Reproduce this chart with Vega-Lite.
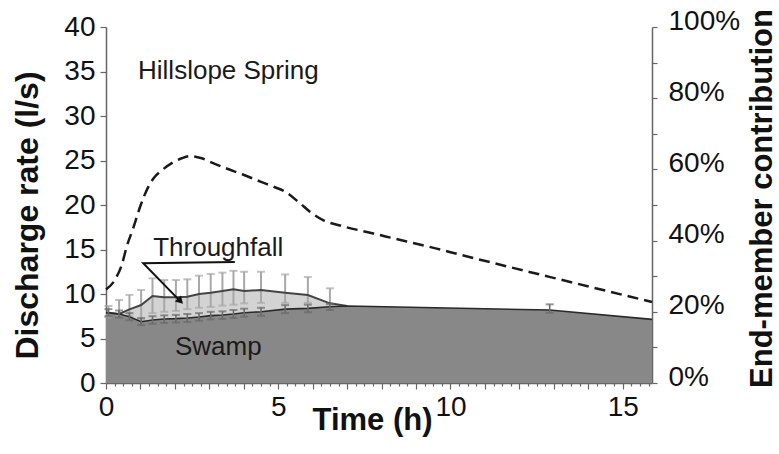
{
  "$schema": "https://vega.github.io/schema/vega-lite/v6.json",
  "width": 546,
  "height": 356,
  "autosize": {"type": "none"},
  "padding": {"left": 106, "top": 27, "right": 127, "bottom": 71},
  "background": "white",
  "config": {
    "view": {"stroke": null},
    "axis": {"labelFont": "Liberation Sans", "titleFont": "Liberation Sans", "labelColor": "#111", "titleColor": "#111", "domainColor": "#666", "tickColor": "#666", "domainWidth": 1.5, "tickWidth": 1.2, "grid": false, "labelFlush": false, "labelOverlap": false, "labelBound": false},
    "text": {"font": "Liberation Sans"}
  },
  "datasets": {
    "main": [
      {"t": 0, "sw": 7.9, "tf": 7.9},
      {"t": 0.07, "sw": 7.9, "tf": 7.9, "tfHi": 8.65, "tfLo": 7.4, "swHi": 8.3, "swLo": 7.5},
      {"t": 0.38, "sw": 7.75, "tf": 7.75, "tfHi": 9.33, "tfLo": 7.6, "swHi": 8.15, "swLo": 7.35},
      {"t": 0.68, "sw": 7.45, "tf": 8.28, "tfHi": 9.9, "tfLo": 7.5, "swHi": 7.85, "swLo": 7.05},
      {"t": 1.02, "sw": 6.89, "tf": 8.76, "tfHi": 10.45, "tfLo": 7.1, "swHi": 7.3, "swLo": 6.5},
      {"t": 1.35, "sw": 7.08, "tf": 9.78, "tfHi": 11.76, "tfLo": 7.85, "swHi": 7.5, "swLo": 6.65},
      {"t": 1.69, "sw": 7.19, "tf": 9.63, "tfHi": 11.57, "tfLo": 8.0, "swHi": 7.6, "swLo": 6.75},
      {"t": 2.03, "sw": 7.23, "tf": 9.63, "tfHi": 11.57, "tfLo": 8.1, "swHi": 7.65, "swLo": 6.8},
      {"t": 2.36, "sw": 7.3, "tf": 9.7, "tfHi": 11.65, "tfLo": 8.3, "swHi": 7.75, "swLo": 6.85},
      {"t": 2.7, "sw": 7.42, "tf": 10.0, "tfHi": 12.06, "tfLo": 8.45, "swHi": 7.85, "swLo": 7.0},
      {"t": 3.04, "sw": 7.57, "tf": 10.15, "tfHi": 12.25, "tfLo": 8.55, "swHi": 8.0, "swLo": 7.15},
      {"t": 3.38, "sw": 7.64, "tf": 10.34, "tfHi": 12.4, "tfLo": 8.7, "swHi": 8.05, "swLo": 7.2},
      {"t": 3.7, "sw": 7.75, "tf": 10.53, "tfHi": 12.6, "tfLo": 8.8, "swHi": 8.2, "swLo": 7.3},
      {"t": 4.01, "sw": 7.9, "tf": 10.34, "tfHi": 12.5, "tfLo": 8.95, "swHi": 8.35, "swLo": 7.45},
      {"t": 4.5, "sw": 8.0, "tf": 10.45, "tfHi": 12.5, "tfLo": 9.0, "swHi": 8.45, "swLo": 7.55},
      {"t": 5.2, "sw": 8.3, "tf": 10.15, "tfHi": 12.2, "tfLo": 9.0, "swHi": 8.75, "swLo": 7.85},
      {"t": 5.86, "sw": 8.38, "tf": 9.89, "tfHi": 11.9, "tfLo": 9.0, "swHi": 8.8, "swLo": 7.95},
      {"t": 6.5, "sw": 8.57, "tf": 8.95, "tfHi": 10.64, "tfLo": 8.8, "swHi": 8.9, "swLo": 8.2},
      {"t": 7.0, "sw": 8.65, "tf": 8.65},
      {"t": 12.88, "sw": 8.2, "swHi": 8.84, "swLo": 7.9},
      {"t": 15.85, "sw": 7.15}
    ],
    "hill": [
      {"t": 0, "q": 10.5}, {"t": 0.26, "q": 11.6}, {"t": 0.46, "q": 13.3}, {"t": 0.6, "q": 15.3},
      {"t": 0.79, "q": 17.4}, {"t": 0.99, "q": 19.8}, {"t": 1.25, "q": 22.2}, {"t": 1.4, "q": 23.1},
      {"t": 1.62, "q": 23.9}, {"t": 1.91, "q": 24.7}, {"t": 2.2, "q": 25.25}, {"t": 2.44, "q": 25.5},
      {"t": 2.78, "q": 25.25}, {"t": 3.11, "q": 24.7}, {"t": 3.5, "q": 24.1}, {"t": 3.99, "q": 23.4},
      {"t": 4.5, "q": 22.6}, {"t": 4.86, "q": 22.06}, {"t": 5.2, "q": 21.5}, {"t": 5.63, "q": 20.2},
      {"t": 5.92, "q": 19.25}, {"t": 6.3, "q": 18.3}, {"t": 6.79, "q": 17.7}, {"t": 7.76, "q": 16.8},
      {"t": 8.73, "q": 15.9}, {"t": 9.6, "q": 15.1}, {"t": 10.0, "q": 14.7}, {"t": 12.9, "q": 11.9},
      {"t": 15.85, "q": 9.1}
    ],
    "callout": [
      {"t": 3.74, "v": 13.6, "ord": 1},
      {"t": 1.08, "v": 13.45, "ord": 2},
      {"t": 2.14, "v": 9.25, "ord": 3}
    ],
    "arrow": [{"t": 2.16, "v": 9.2}],
    "labels": [
      {"t": 0.93, "v": 34.2, "label": "Hillslope Spring"},
      {"t": 1.37, "v": 14.27, "label": "Throughfall"},
      {"t": 2.0, "v": 3.15, "label": "Swamp"}
    ]
  },
  "resolve": {"axis": {"x": "independent", "y": "independent"}},
  "layer": [
    {
      "data": {"name": "main"},
      "mark": {"type": "area", "color": "#888888", "line": false},
      "encoding": {
        "x": {"field": "t", "type": "quantitative", "scale": {"domain": [0, 15.85], "nice": false, "zero": false},
          "axis": {"orient": "bottom", "values": [0,1,2,3,4,5,6,7,8,9,10,11,12,13,14,15],
            "labelExpr": "datum.value % 5 === 0 ? datum.label : ''",
            "tickSize": 6, "labelPadding": 4, "labelFontSize": 28,
            "title": "Time (h)", "titleFontSize": 31, "titleFontWeight": "bold",
            "titleX": 266, "titleY": 37, "titleBaseline": "middle", "titleAlign": "center", "titleAnchor": "start"}},
        "y": {"field": "sw", "type": "quantitative", "scale": {"domain": [0, 40], "nice": false},
          "axis": {"orient": "left", "values": [0,5,10,15,20,25,30,35,40], "tickSize": 6, "labelPadding": 5, "labelFontSize": 28,
            "title": "Discharge rate (l/s)", "titleFontSize": 32, "titleFontWeight": "bold",
            "titleAngle": -90, "titleX": -79, "titleY": 188, "titleBaseline": "middle", "titleAlign": "center", "titleAnchor": "start"}},
        "y2": {"datum": 0}
      }
    },
    {
      "data": {"name": "main"},
      "transform": [{"filter": "isValid(datum.tf)"}],
      "mark": {"type": "area", "color": "#d3d3d3", "line": false},
      "encoding": {
        "x": {"field": "t", "type": "quantitative",
          "axis": {"orient": "bottom", "values": [0.25,0.5,0.75,1.25,1.5,1.75,2.25,2.5,2.75,3.25,3.5,3.75,4.25,4.5,4.75,5.25,5.5,5.75,6.25,6.5,6.75,7.25,7.5,7.75,8.25,8.5,8.75,9.25,9.5,9.75,10.25,10.5,10.75,11.25,11.5,11.75,12.25,12.5,12.75,13.25,13.5,13.75,14.25,14.5,14.75,15.25,15.5,15.75],
            "labels": false, "domain": false, "tickSize": 3, "title": null}},
        "y": {"field": "tf", "type": "quantitative",
          "axis": {"orient": "right", "values": [0,4,8,12,16,20,24,28,32,36,40],
            "labelExpr": "datum.value % 8 === 0 ? (datum.value * 2.5) + '%' : ''",
            "tickSize": 5, "labelPadding": 11, "labelOffset": -6, "labelFontSize": 28,
            "title": "End-member contribution", "titleFontSize": 31, "titleFontWeight": "bold",
            "titleAngle": -90, "titleX": 110, "titleY": 171, "titleBaseline": "middle", "titleAlign": "center", "titleAnchor": "start"}},
        "y2": {"field": "sw"}
      }
    },
    {
      "data": {"name": "main"},
      "transform": [{"filter": "isValid(datum.tfHi)"}],
      "mark": {"type": "rule", "color": "#a8a8a8", "strokeWidth": 2},
      "encoding": {
        "x": {"field": "t", "type": "quantitative", "axis": null},
        "y": {"field": "tfLo", "type": "quantitative", "axis": null},
        "y2": {"field": "tfHi"}
      }
    },
    {
      "data": {"name": "main"},
      "transform": [{"filter": "isValid(datum.tfHi)"}],
      "mark": {"type": "tick", "orient": "horizontal", "color": "#a8a8a8", "size": 8, "thickness": 2},
      "encoding": {
        "x": {"field": "t", "type": "quantitative", "axis": null},
        "y": {"field": "tfHi", "type": "quantitative", "axis": null}
      }
    },
    {
      "data": {"name": "main"},
      "transform": [{"filter": "isValid(datum.tfHi)"}],
      "mark": {"type": "tick", "orient": "horizontal", "color": "#a8a8a8", "size": 8, "thickness": 2},
      "encoding": {
        "x": {"field": "t", "type": "quantitative", "axis": null},
        "y": {"field": "tfLo", "type": "quantitative", "axis": null}
      }
    },
    {
      "data": {"name": "main"},
      "transform": [{"filter": "isValid(datum.tf)"}],
      "mark": {"type": "line", "color": "#444444", "strokeWidth": 2},
      "encoding": {
        "x": {"field": "t", "type": "quantitative", "axis": null},
        "y": {"field": "tf", "type": "quantitative", "axis": null}
      }
    },
    {
      "data": {"name": "main"},
      "mark": {"type": "line", "color": "#2a2a2a", "strokeWidth": 1.6},
      "encoding": {
        "x": {"field": "t", "type": "quantitative", "axis": null},
        "y": {"field": "sw", "type": "quantitative", "axis": null}
      }
    },
    {
      "data": {"name": "main"},
      "transform": [{"filter": "isValid(datum.swHi)"}],
      "mark": {"type": "rule", "color": "#6a6a6a", "strokeWidth": 1.6},
      "encoding": {
        "x": {"field": "t", "type": "quantitative", "axis": null},
        "y": {"field": "swLo", "type": "quantitative", "axis": null},
        "y2": {"field": "swHi"}
      }
    },
    {
      "data": {"name": "main"},
      "transform": [{"filter": "isValid(datum.swHi)"}],
      "mark": {"type": "tick", "orient": "horizontal", "color": "#6a6a6a", "size": 8, "thickness": 2},
      "encoding": {
        "x": {"field": "t", "type": "quantitative", "axis": null},
        "y": {"field": "swHi", "type": "quantitative", "axis": null}
      }
    },
    {
      "data": {"name": "main"},
      "transform": [{"filter": "isValid(datum.swHi)"}],
      "mark": {"type": "tick", "orient": "horizontal", "color": "#6a6a6a", "size": 8, "thickness": 2},
      "encoding": {
        "x": {"field": "t", "type": "quantitative", "axis": null},
        "y": {"field": "swLo", "type": "quantitative", "axis": null}
      }
    },
    {
      "data": {"name": "hill"},
      "mark": {"type": "line", "color": "#1a1a1a", "strokeWidth": 2.5, "strokeDash": [11, 6], "interpolate": "monotone"},
      "encoding": {
        "x": {"field": "t", "type": "quantitative", "axis": null},
        "y": {"field": "q", "type": "quantitative", "axis": null}
      }
    },
    {
      "data": {"name": "callout"},
      "mark": {"type": "line", "color": "#111111", "strokeWidth": 2},
      "encoding": {
        "x": {"field": "t", "type": "quantitative", "axis": null},
        "y": {"field": "v", "type": "quantitative", "axis": null},
        "order": {"field": "ord", "type": "quantitative"}
      }
    },
    {
      "data": {"name": "arrow"},
      "mark": {"type": "point", "shape": "triangle-up", "filled": true, "color": "#111111", "size": 70, "angle": 136, "opacity": 1},
      "encoding": {
        "x": {"field": "t", "type": "quantitative", "axis": null},
        "y": {"field": "v", "type": "quantitative", "axis": null}
      }
    },
    {
      "data": {"name": "labels"},
      "mark": {"type": "text", "align": "left", "baseline": "alphabetic", "fontSize": 26, "color": "#1a1a1a", "font": "Liberation Sans"},
      "encoding": {
        "x": {"field": "t", "type": "quantitative", "axis": null},
        "y": {"field": "v", "type": "quantitative", "axis": null},
        "text": {"field": "label"}
      }
    }
  ]
}
